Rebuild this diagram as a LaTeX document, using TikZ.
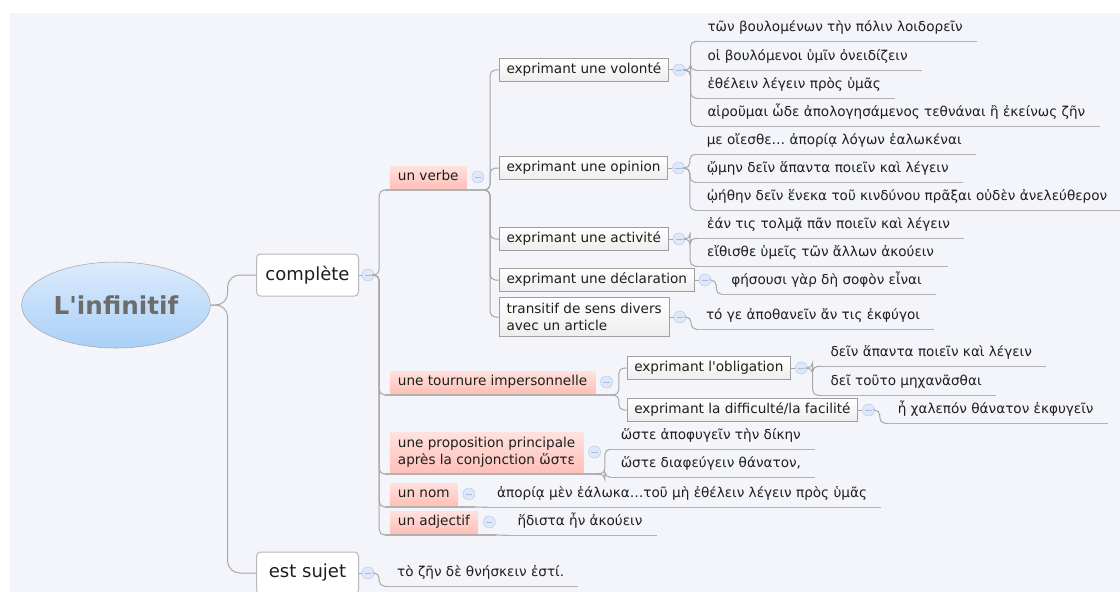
\documentclass[tikz,border=0pt]{standalone}
\usepackage{fontspec}
\setmainfont{DejaVu Sans}[Ligatures=TeXOff]
\usetikzlibrary{shapes.geometric}
\usetikzlibrary{positioning}
\usetikzlibrary{calc}
\definecolor{bgcol}{HTML}{F4F5FA}
\definecolor{linkcol}{HTML}{A8A8A8}
\definecolor{ulinecol}{HTML}{B2B2B2}
\definecolor{pinktop}{HTML}{FFE2DE}
\definecolor{pinkbot}{HTML}{FFC0B8}
\definecolor{foldfill}{HTML}{DEE8F8}
\definecolor{folddraw}{HTML}{BCCDEB}
\definecolor{foldminus}{HTML}{A6BBDF}
\definecolor{roottop}{HTML}{DCEBFC}
\definecolor{rootbot}{HTML}{A9D0F8}
\definecolor{rootgray}{HTML}{6C6C6C}
\definecolor{txt}{HTML}{1E1E1E}
\tikzset{
root/.style={ % the central ellipse
  ellipse, draw=gray!70, top color=roottop, bottom color=rootbot,
  minimum width=139pt, minimum height=64.5pt, text=rootgray,
  font=\fontsize{18.5pt}{20pt}\selectfont\bfseries},
topic/.style={ % main branches, rounded white boxes
  anchor=west, draw=gray!55, line width=0.75pt, fill=white, rounded corners=3pt,
  minimum width=76.5pt, minimum height=31.5pt, text=txt,
  font=\fontsize{13.5pt}{15pt}\selectfont},
pinkbox/.style={ % underlined pink topics
  anchor=west, top color=pinktop, bottom color=pinkbot, text=txt,
  inner xsep=6pt, inner ysep=3.25pt, text height=7.5pt, text depth=2.5pt,
  outer xsep=3.75pt, outer ysep=1.5pt},
subbox/.style={ % framed grey topics
  anchor=west, draw=gray!75, line width=0.6pt, top color=white, bottom color=gray!14,
  text=txt, inner xsep=5.5pt, inner ysep=3.6pt, text height=7.5pt, text depth=2.5pt},
leaf/.style={ % greek examples, underlined
  anchor=west, text=txt, inner xsep=6.75pt, inner ysep=4.75pt,
  text height=7.5pt, text depth=2.5pt},
fold/.style={ % collapse markers
  circle, draw=folddraw, fill=foldfill, minimum size=9pt, inner sep=0pt,
  path picture={\draw[foldminus, line width=0.5pt]
    ([xshift=-2.3pt]path picture bounding box.center) --
    ([xshift=2.3pt]path picture bounding box.center);}},
link/.style={draw=linkcol, line width=0.75pt, rounded corners=4pt},
uline/.style={draw=ulinecol, line width=0.9pt}}

\begin{document}
\begin{tikzpicture}[x=0.75pt, y=-0.75pt, font=\fontsize{10.2pt}{12.5pt}\selectfont]
\useasboundingbox (0,0) rectangle (1120,592);
\fill[white] (0,0) rectangle (1120,592);
\fill[bgcol] (10,13) rectangle (1120,592);

% root and main topics
\node[root] (inf) at (116,305) {L'infinitif};
\node[topic] (comp) at (256,275) {complète};
\node[fold, right=2pt of comp] (fcomp) {};
\node[topic] (sujet) at (256,573) {est sujet};
\node[fold, right=2pt of sujet] (fsujet) {};

% pink topics under complète
\node[pinkbox] (verbe) at ($(fcomp)+(17,-98)$) {un verbe};
\node[fold, right=0pt of verbe] (fverbe) {};
\node[pinkbox] (tourn) at ($(fcomp)+(17,107)$) {une tournure impersonnelle};
\node[fold, right=0pt of tourn] (ftourn) {};
\node[pinkbox, align=left, text height=, text depth=, minimum height=30pt] (propo)
  at ($(fcomp)+(17,177)$) {une proposition principale\\après la conjonction ὥστε};
\node[fold, right=0pt of propo] (fpropo) {};
\node[pinkbox] (nom) at ($(fcomp)+(17,219)$) {un nom};
\node[fold, right=0pt of nom] (fnom) {};
\node[pinkbox] (adj) at ($(fcomp)+(17,247)$) {un adjectif};
\node[fold, right=0pt of adj] (fadj) {};

% framed topics
\node[subbox] (vol) at ($(fverbe)+(21,-107)$) {exprimant une volonté};
\node[fold, right=3pt of vol] (fvol) {};
\node[subbox] (op) at ($(fverbe)+(21,-9)$) {exprimant une opinion};
\node[fold, right=3pt of op] (fop) {};
\node[subbox] (act) at ($(fverbe)+(21,62)$) {exprimant une activité};
\node[fold, right=3pt of act] (fact) {};
\node[subbox] (decl) at ($(fverbe)+(21,103)$) {exprimant une déclaration};
\node[fold, right=3pt of decl] (fdecl) {};
\node[subbox, align=left, text height=, text depth=, minimum height=29.25pt] (trans)
  at ($(fverbe)+(21,140)$) {transitif de sens divers\\avec un article};
\node[fold, right=3pt of trans] (ftrans) {};
\node[subbox] (obl) at ($(ftourn)+(20,-14)$) {exprimant l'obligation};
\node[fold, right=3pt of obl] (fobl) {};
\node[subbox] (diff) at ($(ftourn)+(20,28)$) {exprimant la difficulté/la facilité};
\node[fold, right=3pt of diff] (fdiff) {};

% greek examples
\node[leaf] (v1) at ($(fvol)+(19,-42)$) {τῶν βουλομένων τὴν πόλιν λοιδορεῖν};
\node[leaf] (v2) at ($(fvol)+(19,-13)$) {οἱ βουλόμενοι ὑμῖν ὀνειδίζειν};
\node[leaf] (v3) at ($(fvol)+(19,15)$) {ἐθέλειν λέγειν πρὸς ὑμᾶς};
\node[leaf] (v4) at ($(fvol)+(19,43)$) {αἱροῦμαι ὧδε ἀπολογησάμενος τεθνάναι ἢ ἐκείνως ζῆν};
\node[leaf] (o1) at ($(fop)+(19,-27)$) {με οἴεσθε… ἀπορίᾳ λόγων ἑαλωκέναι};
\node[leaf] (o2) at ($(fop)+(19,1)$) {ᾤμην δεῖν ἅπαντα ποιεῖν καὶ λέγειν};
\node[leaf] (o3) at ($(fop)+(19,29)$) {ᾠήθην δεῖν ἕνεκα τοῦ κινδύνου πρᾶξαι οὐδὲν ἀνελεύθερον};
\node[leaf] (a1) at ($(fact)+(19,-14)$) {ἐάν τις τολμᾷ πᾶν ποιεῖν καὶ λέγειν};
\node[leaf] (a2) at ($(fact)+(19,14)$) {εἴθισθε ὑμεῖς τῶν ἄλλων ἀκούειν};
\node[leaf] (d1) at ($(fdecl)+(17,1)$) {φήσουσι γὰρ δὴ σοφὸν εἶναι};
\node[leaf] (t1) at ($(ftrans)+(17,-1)$) {τό γε ἀποθανεῖν ἄν τις ἐκφύγοι};
\node[leaf] (ob1) at ($(fobl)+(20,-15)$) {δεῖν ἅπαντα ποιεῖν καὶ λέγειν};
\node[leaf] (ob2) at ($(fobl)+(20,14)$) {δεῖ τοῦτο μηχανᾶσθαι};
\node[leaf] (df1) at ($(fdiff)+(20,0)$) {ἦ χαλεπόν θάνατον ἐκφυγεῖν};
\node[leaf] (p1) at ($(fpropo)+(17,-16)$) {ὥστε ἀποφυγεῖν τὴν δίκην};
\node[leaf] (p2) at ($(fpropo)+(17,12)$) {ὥστε διαφεύγειν θάνατον,};
\node[leaf] (n1) at ($(fnom)+(19,0)$) {ἀπορίᾳ μὲν ἑάλωκα…τοῦ μὴ ἐθέλειν λέγειν πρὸς ὑμᾶς};
\node[leaf] (j1) at ($(fadj)+(19,0)$) {ἥδιστα ἦν ἀκούειν};
\node[leaf] (s1) at ($(fsujet)+(20,0)$) {τὸ ζῆν δὲ θνήσκειν ἐστί.};

% connectors
\draw[link, rounded corners=9pt] (inf.east) -- ++(17,0) |- (comp.west);
\draw[link, rounded corners=9pt] (inf.east) -- ++(17,0) |- (sujet.west);
\draw[link] (comp.east) -- (fcomp.west);
\draw[link] (sujet.east) -- (fsujet.west);
\foreach \n in {verbe,tourn,propo,nom,adj}
  \draw[link] (fcomp.east) -- ++(5,0) |- (\n.south west);
\foreach \n in {verbe,tourn,propo,nom,adj}
  \draw[uline] (\n.south west) -- (f\n.east |- \n.south);
\foreach \n in {vol,op,act,decl,trans}
  \draw[link] (fverbe.east |- verbe.south) -- ++(6,0) |- (\n.west);
\foreach \n in {obl,diff}
  \draw[link] (ftourn.east |- tourn.south) -- ++(6,0) |- (\n.west);
\foreach \n in {vol,op,act,decl,trans,obl,diff}
  \draw[link] (\n.east) -- (f\n.west);
\foreach \p/\n in {vol/v1,vol/v2,vol/v3,vol/v4,op/o1,op/o2,op/o3,act/a1,act/a2,
    decl/d1,trans/t1,obl/ob1,obl/ob2,diff/df1,sujet/s1}
  \draw[link] (f\p.east) -- ++(5,0) |- (\n.south west);
\foreach \p/\n in {propo/p1,propo/p2}
  \draw[link] (f\p.east |- \p.south) -- ++(4,0) |- (\n.south west);
\foreach \p/\n in {nom/n1,adj/j1}
  \draw[uline] (f\p.east |- \p.south) -- (\n.south west);
\foreach \n in {v1,v2,v3,v4,o1,o2,o3,a1,a2,d1,t1,ob1,ob2,df1,p1,p2,n1,j1,s1}
  \draw[uline] (\n.south west) -- ($(\n.south east)+(5,0)$);
\end{tikzpicture}
\end{document}
